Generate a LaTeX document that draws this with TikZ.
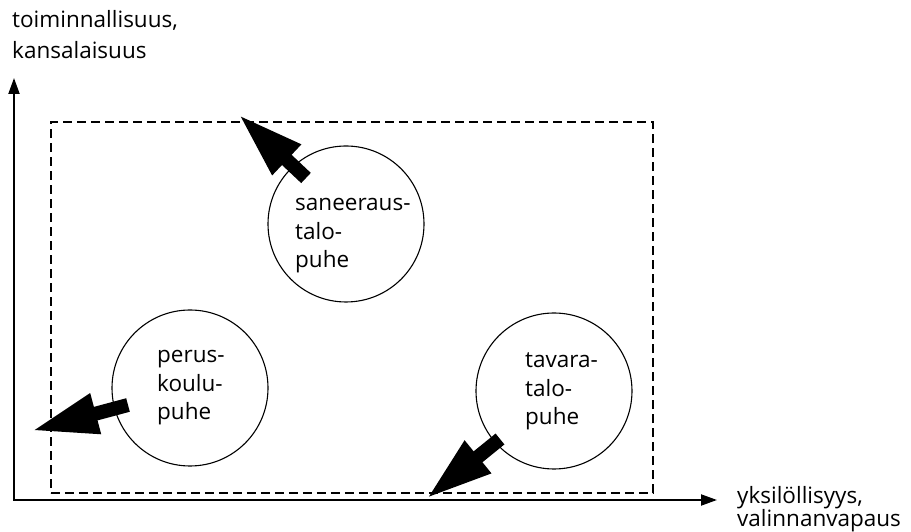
\documentclass[tikz,border=0pt]{standalone}
\usepackage{fontspec}
\setmainfont{Open Sans}
\usetikzlibrary{arrows.meta}
\begin{document}
\begin{tikzpicture}[x=1pt,y=1pt,
  lbl/.style={anchor=base west, align=left, inner sep=0pt, font=\fontsize{22.5}{28.5}\selectfont},
  ring/.style={draw, circle, line width=1.1pt, minimum size=156pt, inner sep=0pt},
  axis/.style={line width=2pt, {Triangle[length=16pt,width=11pt]}-{Triangle[length=16pt,width=11pt]}},
  frame/.style={draw, line width=1.8pt, dash pattern=on 9pt off 5pt, minimum width=602pt, minimum height=371pt, anchor=south west, inner sep=0pt},
  push/.style={line width=14pt, -{Triangle[length=67pt,width=38pt]}}
]
\useasboundingbox (0,0) rectangle (911,532);
% axes
\coordinate (O) at (14,32);
\coordinate (ytip) at (14,454);
\coordinate (xtip) at (717,32);
\draw[axis] (ytip) -- (O) -- (xtip);
% dashed frame
\node[frame] (box) at (50,38) {};
% circles
\node[ring] (san) at (346,308) {};
\node[ring] (per) at (190,144) {};
\node[ring] (tav) at (554,141) {};
% circle texts (anchor = baseline of last line)
\node[lbl] (sanT) at (295,264) {saneeraus-\\talo-\\puhe};
\node[lbl] (perT) at (157,112) {perus-\\koulu-\\puhe};
\node[lbl] (tavT) at (525,107) {tavara-\\talo-\\puhe};
% axis labels
\node[lbl, font=\fontsize{22.5}{31}\selectfont] (ylab) at (12,473) {toiminnallisuus,\\kansalaisuus};
\node[lbl, font=\fontsize{22.5}{23}\selectfont] (xlab) at (737,5) {yksilöllisyys,\\valinnanvapaus};
% block arrows
\coordinate (tA) at (306,354);
\coordinate (hA) at (238,418);
\coordinate (tB) at (128,127);
\coordinate (hB) at (31,101);
\coordinate (tC) at (500,93);
\coordinate (hC) at (426,33);
\draw[push] (tA) -- (hA);
\draw[push] (tB) -- (hB);
\draw[push] (tC) -- (hC);
\end{tikzpicture}
\end{document}
